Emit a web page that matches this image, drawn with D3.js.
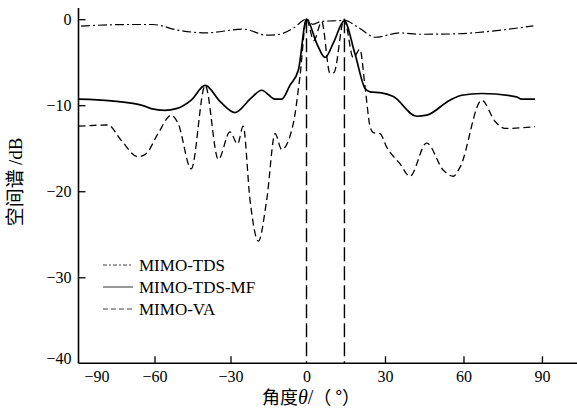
<!DOCTYPE html>
<html><head><meta charset="utf-8">
<script src="https://cdn.jsdelivr.net/npm/d3@7/dist/d3.min.js"></script>
<style>body{margin:0;background:#fff}svg{display:block}</style>
</head><body>
<svg id="c" width="577" height="409"></svg>
<script>
// ---- data ----
const xTicks = [-90, -60, -30, 0, 30, 60, 90];
const yTicks = [0, -10, -20, -30, -40];
const targets = [0, 14.5];
const seriesNames = ["MIMO-TDS", "MIMO-TDS-MF", "MIMO-VA"];

const tdsAngle = [-89, -70.5, -60.6, -50.7, -39.7, -24.9, -15.7, -11.1, -5, 0, 2.4, 5.8, 10, 14.4, 20, 26.2, 35.7, 43.4, 54.8, 86.7];
const tdsValue = [-0.8, -0.62, -0.62, -1.28, -1.59, -1.16, -1.86, -1.78, -1.0, 0, -0.6, -0.25, -0.2, -0.15, -1.0, -2.1, -1.6, -1.75, -1.72, -0.78];

const mfAngle = [-90, -77.1, -63.9, -61.3, -56.0, -51.4, -45.5, -40.0, -34, -28.2, -22, -17.7, -12.4, -9.8, -6.5, -3.2, 0, 3.9, 7.1, 10.5, 14.4, 18.5, 22.4, 24.3, 28.7, 33.2, 42.1, 45.9, 54.8, 59.3, 66.9, 80.3, 82.2, 87.3];
const mfValue = [-9.3, -9.5, -10.1, -10.4, -10.6, -10.4, -9.4, -7.7, -9.6, -10.85, -9.2, -8.26, -9.3, -9.3, -7.67, -5.9, 0, -2.8, -4.45, -2.6, -0.2, -4.0, -8.06, -8.45, -8.57, -9.0, -11.28, -11.16, -9.42, -8.84, -8.64, -9.03, -9.3, -9.3];

const vaAngle = [-90, -78.4, -73.1, -66.5, -63.2, -58.6, -53.4, -50.7, -45.5, -40, -34.8, -30.2, -27.2, -25.0, -22.3, -19.0, -15.7, -12.4, -9.8, -5.2, -2.6, 0, 2.8, 5.8, 9.0, 10.5, 14.4, 17.9, 20.4, 22.4, 24.3, 25.6, 28.1, 30.6, 35.7, 39.5, 45.9, 52.3, 56.1, 58.7, 67.0, 72.1, 75.9, 87.3];
const vaValue = [-12.44, -12.3, -14.1, -16.0, -15.6, -13.3, -11.16, -12.1, -17.4, -7.7, -16.3, -13.1, -14.5, -12.44, -21.0, -25.8, -21.0, -13.3, -15.15, -12.1, -6.7, 0, -2.5, -0.3, -6.3, -6.2, 0, -4.5, -3.5, -7.9, -12.5, -13.2, -13.3, -14.85, -16.8, -18.26, -14.4, -17.56, -18.26, -17.2, -9.42, -11.9, -12.7, -12.5];

// ---- layout ----
const svg = d3.select("#c");
const x = d3.scaleLinear().domain([-90, 0, 104]).range([78.5, 306.5, 578.6]);
const y = d3.scaleLinear().domain([-40, 1.3]).range([363.3, 8]);

const serif = "'Liberation Serif','Times New Roman',serif";
const cjk = "'Noto Sans CJK SC',sans-serif";

// axes
const xAxis = d3.axisBottom(x).tickValues(xTicks).tickSizeInner(-7).tickSizeOuter(0).tickPadding(7)
  .tickFormat(d => d3.format("")(d).replace("-", "\u2212"));
const gx = svg.append("g").attr("transform", `translate(0,${y(-40)})`).call(xAxis)
  .attr("font-family", null).attr("font-size", null);
gx.select(".domain").attr("d", `M${x(-90)},0H577`).attr("stroke-width", 1.6);
gx.selectAll(".tick line").attr("stroke-width", 1.3).filter(d => d === -90 || d === 0).remove();
gx.selectAll(".tick text").style("font-family", serif).style("font-size", "16px").attr("fill", "#000")
  .attr("dx", d => d === -90 ? 18 : 0);

const yAxis = d3.axisLeft(y).tickValues(yTicks).tickSizeInner(-7).tickSizeOuter(0).tickPadding(7)
  .tickFormat(d => d3.format("")(d).replace("-", "\u2212"));
const gy = svg.append("g").attr("transform", `translate(${x(-90)},0)`).call(yAxis)
  .attr("font-family", null).attr("font-size", null);
gy.select(".domain").attr("d", `M0,8V${y(-40)}`).attr("stroke-width", 1.6);
gy.selectAll(".tick line").attr("stroke-width", 1.3).filter(d => d === -40).remove();
gy.selectAll(".tick text").style("font-family", serif).style("font-size", "16px").attr("fill", "#000")
  .attr("dy", d => d === -40 ? "0.0em" : "0.35em");

// target lines
svg.selectAll("line.t").data(targets).join("line").attr("class", "t")
  .attr("x1", d => x(d)).attr("x2", d => x(d)).attr("y1", y(0)).attr("y2", y(-40))
  .attr("stroke", "#000").attr("stroke-width", 1.4).attr("stroke-dasharray", "14,5");

// curves
const line = d3.line().x(d => x(d[0])).y(d => y(d[1])).curve(d3.curveMonotoneX);
const styles = [
  {a: tdsAngle, v: tdsValue, dash: "9,3,2,3", w: 1.2},
  {a: mfAngle, v: mfValue, dash: null, w: 1.7},
  {a: vaAngle, v: vaValue, dash: "7,4", w: 1.3}
];
styles.forEach(s => {
  svg.append("path").datum(d3.zip(s.a, s.v)).attr("d", line)
    .attr("fill", "none").attr("stroke", "#000").attr("stroke-width", s.w)
    .attr("stroke-dasharray", s.dash);
});

// legend
const legendY = [265, 287, 309];
const lg = svg.append("g");
seriesNames.forEach((n, i) => {
  lg.append("line").attr("x1", 103).attr("x2", 133).attr("y1", legendY[i]).attr("y2", legendY[i])
    .attr("stroke", "#444").attr("stroke-width", 1.1)
    .attr("stroke-dasharray", i === 0 ? "4,2,2,2" : (i === 2 ? "5,3" : null));
  lg.append("text").attr("x", 139).attr("y", legendY[i]).attr("dy", "0.35em")
    .style("font-family", serif).style("font-size", "17px").attr("fill", "#000").text(n);
});

// axis titles
const xt = svg.append("text").attr("x", 311).attr("y", 398).attr("dy", "0.35em").attr("text-anchor", "middle")
  .style("font-size", "18px").attr("fill", "#000").style("font-family", cjk);
xt.append("tspan").text("角度");
xt.append("tspan").style("font-family", serif).style("font-style", "italic").style("font-size", "20px").text("θ");
xt.append("tspan").style("font-family", serif).style("font-size", "20px").text("/");
xt.append("tspan").text("（ °）");

const yt = svg.append("text").attr("transform", "translate(15,182) rotate(-90)").attr("dy", "0.35em")
  .attr("text-anchor", "middle").style("font-size", "19px").attr("fill", "#000")
  .style("font-family", cjk);
yt.append("tspan").text("空间谱 ");
yt.append("tspan").style("font-family", serif).text("/dB");
</script>
</body></html>
